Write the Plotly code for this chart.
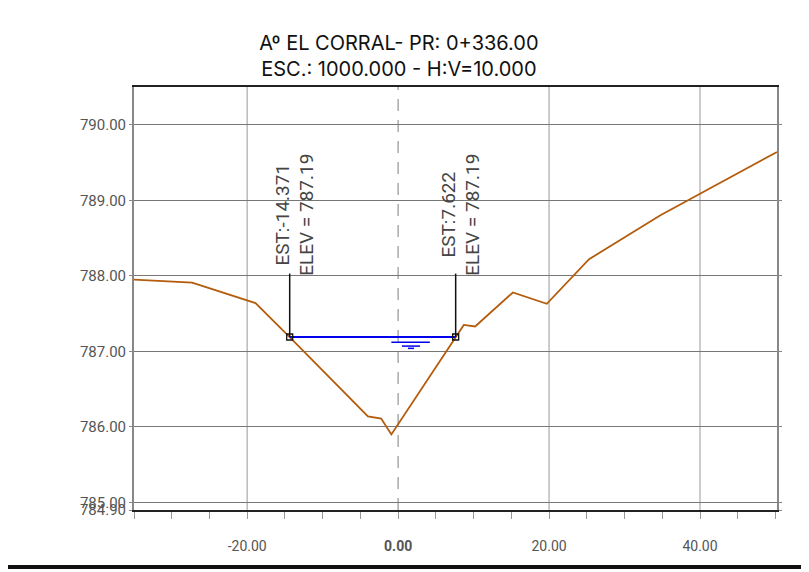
import plotly.graph_objects as go

# perfil del terreno (estacion, cota)
est = [-35.0, -27.3, -18.9, -14.371, -4.0, -2.25, -0.9, 7.622, 8.7, 10.2, 15.2, 19.7, 25.3, 34.7, 50.2]
cota = [787.95, 787.91, 787.64, 787.19, 786.14, 786.11, 785.90, 787.19, 787.35, 787.33, 787.78, 787.63, 788.22, 788.80, 789.64]

# nivel de agua
nivel = 787.19
est_agua = [-14.371, 7.622]
cota_etiqueta = 788.03

x_grid = [-20, 20, 40]
x_ticks = [-20, 0, 20, 40]
x_labels = ["-20.00", "<b>0.00</b>", "20.00", "40.00"]
y_ticks = [784.9, 785, 786, 787, 788, 789, 790]
y_labels = ["784.90", "785.00", "786.00", "787.00", "788.00", "789.00", "790.00"]

titulo = "Aº EL CORRAL- PR: 0+336.00<br>ESC.: 1000.000 - H:V=10.000"

fig = go.Figure()

for xg in x_grid:
    fig.add_vline(x=xg, line=dict(color="#bbbbbb", width=1.5), layer="below")
fig.add_vline(x=0, line=dict(color="#aaaaaa", width=1.5, dash="12px,9px"), layer="below")

# terreno
fig.add_trace(go.Scatter(x=est, y=cota, mode="lines",
                         line=dict(color="#b35c0c", width=1.8), hoverinfo="skip"))

# linea de agua
fig.add_trace(go.Scatter(x=est_agua, y=[nivel, nivel], mode="lines",
                         line=dict(color="#0000ee", width=1.8), hoverinfo="skip"))

# simbolo de agua
simb_x = [[-0.9, 4.2], [0.5, 2.9], [1.3, 2.1]]
simb_y = [787.12, 787.07, 787.04]
for sx, sy in zip(simb_x, simb_y):
    fig.add_trace(go.Scatter(x=sx, y=[sy, sy], mode="lines",
                             line=dict(color="#0000ee", width=1.5), hoverinfo="skip"))

# lineas guia y etiquetas
for e in est_agua:
    fig.add_trace(go.Scatter(x=[e, e], y=[nivel, cota_etiqueta], mode="lines",
                             line=dict(color="#111111", width=1.5), hoverinfo="skip"))
    fig.add_annotation(x=e, y=787.97, xanchor="center", yanchor="bottom",
                       xshift=5,
                       text=f"EST:{e:.3f}<br>ELEV = {nivel:.2f}", textangle=-90,
                       showarrow=False, align="center",
                       font=dict(family="Roboto", size=19, color="#444444"))

fig.add_trace(go.Scatter(x=est_agua, y=[nivel, nivel], mode="markers",
                         marker=dict(symbol="square-open", size=6, color="#111111",
                                     line=dict(width=1.3)), hoverinfo="skip"))

fig.update_layout(
    width=801, height=564,
    margin=dict(l=126, r=32, t=79, b=62),
    plot_bgcolor="white", paper_bgcolor="white",
    showlegend=False,
    title=dict(text=titulo, x=0.488, xanchor="center", y=0.925, yanchor="top",
               font=dict(family="Inter", size=20, color="#111111")),
    xaxis=dict(range=[-35, 50.2], tickvals=x_ticks, ticktext=x_labels,
               showgrid=False, zeroline=False,
               showline=True, linecolor="#222222", linewidth=1.5, mirror=True,
               ticks="outside", ticklen=7, tickcolor="#999999",
               minor=dict(dtick=5, ticks="outside", ticklen=7, tickcolor="#999999", showgrid=False),
               ticklabelstandoff=15,
               tickfont=dict(family="Roboto", size=14, color="#555555")),
    yaxis=dict(range=[784.9, 790.5], tickvals=y_ticks, ticktext=y_labels,
               showgrid=True, gridcolor="#777777", gridwidth=1, zeroline=False,
               showline=True, linecolor="#888888", linewidth=2, mirror="ticks",
               ticks="outside", ticklen=3, tickcolor="#888888",
               tickfont=dict(family="Roboto", size=15, color="#555555")),
)

# borde inferior de la pagina
fig.add_shape(type="line", xref="paper", yref="paper", x0=-0.25, x1=1.1, y0=-0.135, y1=-0.135,
              line=dict(color="#111111", width=4))

fig.write_html("out.html")
